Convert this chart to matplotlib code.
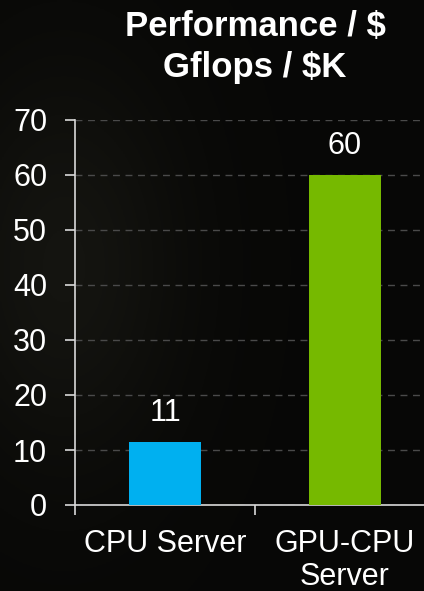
import matplotlib
matplotlib.use("Agg")
import matplotlib.pyplot as plt
import numpy as np

categories = ["CPU Server", "GPU-CPU\nServer"]
values = [11.4, 60]
value_labels = ["11", "60"]
colors = ["#00B0F0", "#76B900"]
yticks = [0, 10, 20, 30, 40, 50, 60, 70]
title = "Performance / $\nGflops / $K"

plt.rcParams['font.family'] = ['Liberation Sans', 'DejaVu Sans']

fig = plt.figure(figsize=(4.24, 5.91), dpi=100)
fig.patch.set_facecolor("#0a0a07")

# subtle background gradient
bg = fig.add_axes([0, 0, 1, 1], zorder=-10)
yy, xx = np.mgrid[0:1:200j, 0:1:200j]
shade = 0.03 + 0.05 * np.exp(-((xx - 0.15) ** 2 / 0.08 + (yy - 0.45) ** 2 / 0.12))
img = np.dstack([shade * 1.0, shade * 1.0, shade * 0.8])
bg.imshow(img, extent=[0, 1, 0, 1], aspect="auto", origin="upper")
bg.axis("off")

ax = fig.add_axes([75 / 424, 1 - 505 / 591, (435 - 75) / 424, (505 - 120) / 591])
ax.set_facecolor("none")

x = np.arange(len(categories))
ax.bar(x, values, width=0.4, color=colors, zorder=3)
for xi, v, lab in zip(x, values, value_labels):
    ax.text(xi, v + 2.6, lab, ha="center", va="bottom", color="white", fontsize=22)

ax.set_xlim(-0.5, 1.5)
ax.set_ylim(0, 70)
ax.set_yticks(yticks)
ax.set_yticklabels([str(t) for t in yticks], fontsize=22, color="white")
ax.set_xticks([0, 1])
ax.set_xticklabels(categories, fontsize=22, color="white", linespacing=1.15)
ax.set_xticks([-0.5, 0.5, 1.5], minor=True)
ax.tick_params(axis="x", which="major", length=0, pad=17)
ax.tick_params(axis="x", which="minor", length=7, width=1.2, color="#d9d9d9", direction="out")
ax.tick_params(axis="y", length=7, width=1.2, color="#d9d9d9", pad=13)

ax.grid(axis="y", color="#4a4a4a", linestyle=(0, (5, 4)), linewidth=1, zorder=0)
for s in ["top", "right"]:
    ax.spines[s].set_visible(False)
for s in ["left", "bottom"]:
    ax.spines[s].set_color("#d9d9d9")
    ax.spines[s].set_linewidth(1.2)

fig.text(255 / 424, 1 - 47 / 591, title, ha="center", va="center", color="white",
         fontsize=25, fontweight="bold", linespacing=1.32)

fig.savefig("out.png", dpi=100, facecolor=fig.get_facecolor())
